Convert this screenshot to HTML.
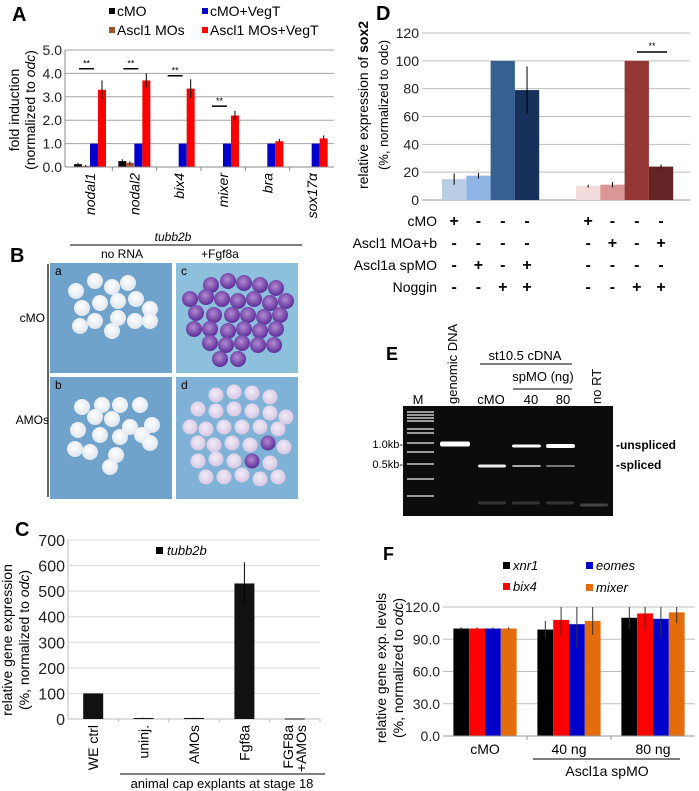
<!DOCTYPE html>
<html><head><meta charset="utf-8"><style>
html,body{margin:0;padding:0;background:#fff}
svg{display:block;font-family:"Liberation Sans",Arial,sans-serif}
</style></head><body>
<svg id="fig" width="699" height="791" viewBox="0 0 699 791" xmlns="http://www.w3.org/2000/svg">
<defs>
<radialGradient id="emb" cx="45%" cy="40%" r="60%"><stop offset="0" stop-color="#ffffff"/><stop offset="1" stop-color="#dfe6ee"/></radialGradient>
<radialGradient id="embp" cx="45%" cy="40%" r="60%"><stop offset="0" stop-color="#b48ad0"/><stop offset="1" stop-color="#5a2c9a"/></radialGradient>
<radialGradient id="embl" cx="45%" cy="40%" r="60%"><stop offset="0" stop-color="#f2ecf6"/><stop offset="1" stop-color="#d6c7e4"/></radialGradient>
</defs>
</svg>
<script>
// ---------- Panel A data ----------
const aCats=["nodal1","nodal2","bix4","mixer","bra","sox17α"];
const aCmo=[0.12,0.25,0.02,0.02,0.02,0.02];
const aCmoErr=[0.06,0.08,0,0,0,0];
const aAmo=[0.05,0.18,0.02,0.02,0.02,0.02];
const aAmoErr=[0.03,0.06,0,0,0,0];
const aCmoVegT=[1,1,1,1,1,1];
const aAmoVegT=[3.3,3.7,3.35,2.2,1.1,1.22];
const aAmoVegTErr=[0.4,0.3,0.4,0.2,0.1,0.13];
const aTicks=["0.0","1.0","2.0","3.0","4.0","5.0"];
const aSig=[4.2,4.2,3.9,2.6,null,null];
// ---------- Panel C data ----------
const cCats=[["WE ctrl"],["uninj."],["AMOs"],["Fgf8a"],["FGF8a","+AMOs"]];
const cVals=[100,4,4,530,2];
const cErr=[0,1,1,83,0];
const cTicks=["0","100","200","300","400","500","600","700"];
// ---------- Panel D data ----------
const dVals1=[15,17.5,100,79];
const dErr1=[4,2,0,17];
const dVals2=[10,11,100,24];
const dErr2=[1,2,0,1.5];
const dTicks=["0","20","40","60","80","100","120"];
const dRows=["cMO","Ascl1 MOa+b","Ascl1a spMO","Noggin"];
const dSigns1=[["+","-","-","-"],["-","-","-","-"],["-","+","-","+"],["-","-","+","+"]];
const dSigns2=[["+","-","-","-"],["-","+","-","+"],["-","-","-","-"],["-","-","+","+"]];
// ---------- Panel F data ----------
const fGroups=["cMO","40 ng","80 ng"];
const fSeriesNames=["xnr1","bix4","eomes","mixer"];
const fXnr1=[100,99,110];
const fBix4=[100,108,114];
const fEomes=[100,104,109];
const fMixer=[100,107,115];
const fXnr1Err=[1,8,10];
const fBix4Err=[1,15,15];
const fEomesErr=[1,22,17];
const fMixerErr=[1,13,10];
const fTicks=["0.0","30.0","60.0","90.0","120.0"];

const svg=document.getElementById('fig');
const NS="http://www.w3.org/2000/svg";
function mk(tag,attrs,parent){const e=document.createElementNS(NS,tag);for(const k in attrs)e.setAttribute(k,attrs[k]);(parent||svg).appendChild(e);return e;}
function txt(s,attrs,parent){const e=mk('text',attrs,parent);e.textContent=s;return e;}
let el;

// ================= PANEL A =================
(function(){
const x0=65,x1=334,yB=167,yT=50,ymax=5;
const cx0=68,cw=(x1-cx0)/aCats.length;
const y=v=>yB-(v/ymax)*(yB-yT);
el=txt("A",{x:12,y:21,"font-size":20,"font-weight":"bold"});

for(let i=0;i<aTicks.length;i++){
  const v=parseFloat(aTicks[i]);
  el=mk('line',{x1:x0,x2:x1,y1:y(v),y2:y(v),stroke:"#a6a6a6","stroke-width":1});
  
  el=txt(aTicks[i],{x:x0-3,y:y(v)+5,"font-size":14,"text-anchor":"end",fill:"#222"});
  
}
el=mk('line',{x1:x0,x2:x0,y1:yT,y2:yB,stroke:"#888"});

const series=[[aCmo,aCmoErr,"#000",6],[aAmo,aAmoErr,"#a0522d",13.5],[aCmoVegT,null,"#0000cc",22],[aAmoVegT,aAmoVegTErr,"#ff0000",30]];
for(let i=0;i<aCats.length;i++){
  const cx=cx0+cw*i;
  series.forEach((s,j)=>{
    const v=s[0][i];
    el=mk('rect',{x:cx+s[3],y:y(v),width:8,height:yB-y(v),fill:s[2]});
    
    if(s[1]&&s[1][i]>0){
      el=mk('line',{x1:cx+s[3]+4,x2:cx+s[3]+4,y1:y(v+s[1][i]),y2:y(Math.max(0,v-s[1][i])),stroke:"#000","stroke-width":1});
      
    }
  });
  if(i>0){el=mk('line',{x1:cx,x2:cx,y1:yB,y2:yB+4,stroke:"#888"});
  }
  if(aSig[i]!==null){
    el=mk('line',{x1:cx+11,x2:cx+26,y1:y(aSig[i]),y2:y(aSig[i]),stroke:"#000","stroke-width":1.5});
    
    el=txt("**",{x:cx+18.5,y:y(aSig[i])-2,"font-size":9,"text-anchor":"middle"});
    
  }
  el=txt(aCats[i],{x:0,y:0,"font-size":14,"font-style":"italic","text-anchor":"end",transform:`translate(${cx+cw/2+5},${yB+6}) rotate(-90)`});
  
}
el=mk('line',{x1:x0,x2:x1,y1:yB,y2:yB,stroke:"#888"});

el=txt("fold induction",{x:0,y:0,"font-size":14,"text-anchor":"middle",transform:`translate(19,110) rotate(-90)`});

el=mk('text',{x:0,y:0,"font-size":14,"text-anchor":"middle",transform:`translate(35,110) rotate(-90)`});
el.innerHTML='(normalized to <tspan font-style="italic">odc</tspan>)';

const leg=[["cMO","#000",109,16],["Ascl1 MOs","#a0522d",109,35],["cMO+VegT","#0000cc",202,16],["Ascl1 MOs+VegT","#ff0000",202,35]];
leg.forEach(l=>{
  el=mk('rect',{x:l[2],y:l[3]-8,width:6,height:6,fill:l[1]});
  
  el=txt(l[0],{x:l[2]+8,y:l[3],"font-size":14});
  
});
})();

// ================= PANEL B =================
(function(){
el=txt("B",{x:10,y:262,"font-size":20,"font-weight":"bold"});

el=txt("tubb2b",{x:173,y:241,"font-size":12,"font-style":"italic","text-anchor":"middle"});

el=mk('line',{x1:70,x2:302,y1:245,y2:245,stroke:"#000"});

el=txt("no RNA",{x:122,y:258,"font-size":12,"text-anchor":"middle"});

el=txt("+Fgf8a",{x:220,y:258,"font-size":12,"text-anchor":"middle"});

el=txt("cMO",{x:45,y:322,"font-size":12,"text-anchor":"end"});

el=txt("AMOs",{x:49,y:424,"font-size":12,"text-anchor":"end"});

el=mk('line',{x1:48,x2:48,y1:264,y2:497,stroke:"#000","stroke-width":1.2});

const panels=[["a",50,263,"#6fa3cc"],["c",176,263,"#8cc0dc"],["b",50,377,"#6fa3cc"],["d",176,377,"#7fb2d6"]];
const ptsA=[[26,28],[45,18],[62,24],[78,20],[32,45],[50,40],[68,38],[86,36],[100,46],[45,58],[68,55],[85,58],[30,63],[62,68],[100,58]];
const ptsB=[[32,30],[52,28],[70,28],[90,28],[45,40],[62,42],[28,53],[80,50],[102,48],[50,58],[70,60],[92,58],[100,66],[40,75],[66,78],[25,72],[60,90]];
const ptsC=[[35,22],[52,18],[68,20],[84,22],[100,25],[14,36],[30,34],[46,36],[62,38],[78,36],[94,40],[110,38],[20,50],[38,52],[56,52],[72,52],[88,54],[104,52],[18,66],[34,66],[52,68],[68,66],[84,68],[100,66],[34,80],[50,82],[66,80],[82,82],[98,82],[44,96],[62,96]];
const ptsD=[[40,18],[58,15],[76,16],[94,20],[22,32],[40,34],[58,32],[76,34],[94,36],[110,40],[14,50],[30,52],[48,50],[66,50],[84,50],[102,52],[22,66],[38,68],[56,66],[74,68],[92,66],[108,70],[22,84],[40,82],[58,84],[76,84],[94,86],[30,100],[48,100],[66,98],[84,102],[102,100]];
panels.forEach((p,k)=>{
  el=mk('rect',{x:p[1],y:p[2],width:122,height:p[0]==="a"||p[0]==="c"?110:122,fill:p[3]});
  
  const pts=[ptsA,ptsC,ptsB,ptsD][k];
  pts.forEach((q,m)=>{
    let f="url(#emb)",r=8;
    if(p[0]==="c"){f="url(#embp)";r=8;}
    if(p[0]==="d"){f=(m===20||m===25)?"url(#embp)":"url(#embl)";r=7.5;}
    el=mk('circle',{cx:p[1]+q[0],cy:p[2]+q[1],r:r,fill:f});
    
  });
  el=txt(p[0],{x:p[1]+5,y:p[2]+12,"font-size":12});
  
});
})();

// ================= PANEL C =================
(function(){
const x0=68,x1=320,yB=719,yT=540,ymax=700;
const cw=(x1-x0)/cCats.length;
const y=v=>yB-(v/ymax)*(yB-yT);
el=txt("C",{x:15,y:536,"font-size":20,"font-weight":"bold"});

cTicks.forEach(t=>{const v=+t;
  el=mk('line',{x1:x0,x2:x1,y1:y(v),y2:y(v),stroke:"#d9d9d9"});
  
  el=txt(t,{x:x0-3,y:y(v)+6,"font-size":16,"text-anchor":"end",fill:"#222"});
  
});
el=mk('line',{x1:x0,x2:x0,y1:yT,y2:yB,stroke:"#bbb"});

el=mk('line',{x1:x0,x2:x1,y1:yB,y2:yB,stroke:"#bbb"});

cCats.forEach((c,i)=>{
  const cx=x0+cw*(i+0.5);
  el=mk('rect',{x:cx-10,y:y(cVals[i]),width:20,height:Math.max(1,yB-y(cVals[i])),fill:"#111"});
  
  if(cErr[i]>0){el=mk('line',{x1:cx,x2:cx,y1:y(cVals[i]+cErr[i]),y2:y(cVals[i]-cErr[i]),stroke:"#000"});
  }
  el=mk('line',{x1:x0+cw*(i+1),x2:x0+cw*(i+1),y1:yB,y2:yB+3,stroke:"#bbb"});
  
  c.forEach((s,j)=>{
    const off=c.length===1?5:-2+j*13;
    el=txt(s,{x:0,y:0,"font-size":14,"text-anchor":"end",transform:`translate(${cx+off},${yB+6}) rotate(-90)`});
    
  });
});
el=mk('line',{x1:120,x2:325,y1:774,y2:774,stroke:"#000"});

el=txt("animal cap explants at stage 18",{x:222,y:788,"font-size":13,"text-anchor":"middle"});

el=mk('rect',{x:156,y:547,width:7,height:7,fill:"#000"});

el=txt("tubb2b",{x:167,y:555,"font-size":13,"font-style":"italic"});

el=txt("relative gene expression",{x:0,y:0,"font-size":14,"text-anchor":"middle",transform:`translate(12,640) rotate(-90)`});

el=mk('text',{x:0,y:0,"font-size":14,"text-anchor":"middle",transform:`translate(29,640) rotate(-90)`});
el.innerHTML='(%, normalized to <tspan font-style="italic">odc</tspan>)';

})();

// ================= PANEL D =================
(function(){
const x0=422,x1=690,yB=200,yT=33,ymax=120;
const y=v=>yB-(v/ymax)*(yB-yT);
el=txt("D",{x:376,y:20,"font-size":20,"font-weight":"bold"});

dTicks.forEach(t=>{const v=+t;
  el=mk('line',{x1:x0,x2:x1,y1:y(v),y2:y(v),stroke:"#bfbfbf"});
  
  el=txt(t,{x:x0-3,y:y(v)+5,"font-size":14,"text-anchor":"end",fill:"#222"});
  
});
el=mk('line',{x1:x0,x2:x1,y1:yB,y2:yB,stroke:"#999"});

const c1=["#b9cde5","#8db4e2","#376092","#17315a"],c2=["#f2dcdb","#d99694","#953735","#632523"];
const groups=[[dVals1,dErr1,c1,442,dSigns1],[dVals2,dErr2,c2,576,dSigns2]];
const bw=24.3;
groups.forEach((g,gi)=>{
  g[0].forEach((v,i)=>{
    const bx=g[3]+bw*i;
    el=mk('rect',{x:bx,y:y(v),width:bw,height:yB-y(v),fill:g[2][i]});
    
    if(g[1][i]>0){el=mk('line',{x1:bx+bw/2,x2:bx+bw/2,y1:y(v+g[1][i]),y2:y(v-g[1][i]),stroke:"#000"});
    }
  });
  g[4].forEach((row,r)=>row.forEach((s,i)=>{
    el=txt(s,{x:g[3]+bw*i+bw/2,y:226+r*22,"font-size":16,"font-weight":"bold","text-anchor":"middle"});
    
  }));
});
el=mk('line',{x1:637,x2:667,y1:52,y2:52,stroke:"#000","stroke-width":1.5});

el=txt("**",{x:652,y:49,"font-size":9,"text-anchor":"middle"});

dRows.forEach((r,i)=>{
  el=txt(r,{x:437,y:226+i*22,"font-size":14,"text-anchor":"end"});
  
});
el=mk('text',{x:0,y:0,"font-size":14,"text-anchor":"middle",transform:`translate(368,105) rotate(-90)`});
el.innerHTML='relative expression of <tspan font-weight="bold">sox2</tspan>';

el=txt("(%, normalized to odc)",{x:0,y:0,"font-size":13,"text-anchor":"middle",transform:`translate(388,105) rotate(-90)`});

})();

// ================= PANEL E (gel) =================
(function(){
el=txt("E",{x:386,y:360,"font-size":18,"font-weight":"bold"});

el=mk('rect',{x:403,y:406,width:210,height:110,fill:"#0c0c0c"});

[412,415,418,421,429,433,443,452,464,479,496].forEach(yy=>{
  el=mk('rect',{x:407,y:yy-1,width:27,height:2,fill:"#9a9a9a"});
  
});
const bands=[[440,444,30,"#fff",5],[478,466,28,"#eee",3],[512,446,29,"#fff",3],[512,466,29,"#aaa",2],[546,446,29,"#fff",4],[546,466,29,"#777",2],[580,505,28,"#444",3],[512,503,28,"#333",3],[546,503,28,"#333",3],[478,503,28,"#333",3]];
bands.forEach(b=>{
  el=mk('rect',{x:b[0],y:b[1]-b[4]/2,width:b[2],height:b[4],rx:2,fill:b[3]});
  
});
const lab=[["M",418,404],["cMO",491,404],["40",531,404],["80",563,404]];
lab.forEach(l=>{el=txt(l[0],{x:l[1],y:l[2],"font-size":13,"text-anchor":"middle"});
  });
el=txt("genomic DNA",{x:0,y:0,"font-size":13,transform:`translate(457,404) rotate(-90)`});

el=txt("no RT",{x:0,y:0,"font-size":13,transform:`translate(601,404) rotate(-90)`});

el=txt("st10.5 cDNA",{x:525,y:360,"font-size":13,"text-anchor":"middle"});

el=mk('line',{x1:480,x2:572,y1:364,y2:364,stroke:"#000"});

el=txt("spMO (ng)",{x:543,y:381,"font-size":13,"text-anchor":"middle"});

el=mk('line',{x1:513,x2:572,y1:389,y2:389,stroke:"#000"});

el=txt("1.0kb-",{x:403,y:448,"font-size":11,"text-anchor":"end"});

el=txt("0.5kb-",{x:403,y:468,"font-size":11,"text-anchor":"end"});

el=txt("-unspliced",{x:616,y:449,"font-size":12,"font-weight":"bold"});

el=txt("-spliced",{x:616,y:469,"font-size":12,"font-weight":"bold"});

})();

// ================= PANEL F =================
(function(){
const x0=443,x1=695,yB=736,yT=607,ymax=120;
const y=v=>yB-(Math.min(v,ymax)/ymax)*(yB-yT);
const gw=(x1-x0)/fGroups.length,bw=15.8;
el=txt("F",{x:383,y:560,"font-size":18,"font-weight":"bold"});

fTicks.forEach(t=>{const v=+t;
  el=mk('line',{x1:x0,x2:x1,y1:y(v),y2:y(v),stroke:"#bfbfbf"});
  
  el=txt(t,{x:x0-3,y:y(v)+5,"font-size":14,"text-anchor":"end",fill:"#222"});
  
});
const series=[[fXnr1,fXnr1Err,"#000"],[fBix4,fBix4Err,"#ff0000"],[fEomes,fEomesErr,"#0000cc"],[fMixer,fMixerErr,"#e46c0a"]];
fGroups.forEach((g,i)=>{
  const gx=x0+gw*i+(gw-4*bw)/2;
  series.forEach((s,j)=>{
    const v=s[0][i],bx=gx+bw*j;
    el=mk('rect',{x:bx,y:y(v),width:bw,height:yB-y(v),fill:s[2]});
    
    el=mk('line',{x1:bx+bw/2,x2:bx+bw/2,y1:y(v+s[1][i]),y2:y(v-s[1][i]),stroke:"#333"});
    
  });
  el=txt(g,{x:x0+gw*(i+0.5),y:754,"font-size":14,"text-anchor":"middle"});
  
  if(i>0){el=mk('line',{x1:x0+gw*i,x2:x0+gw*i,y1:yB,y2:yB+4,stroke:"#999"});
  }
});
el=mk('line',{x1:x0,x2:x1,y1:yB,y2:yB,stroke:"#999"});

el=mk('line',{x1:533,x2:680,y1:759,y2:759,stroke:"#000"});

el=txt("Ascl1a spMO",{x:607,y:776,"font-size":14,"text-anchor":"middle"});

const leg=[[0,503,569],[1,503,590],[2,586,569],[3,586,591]];
leg.forEach(l=>{
  el=mk('rect',{x:l[1],y:l[2]-7,width:7,height:7,fill:series[l[0]][2]});
  
  el=txt(fSeriesNames[l[0]],{x:l[1]+10,y:l[2]+1,"font-size":13,"font-style":"italic"});
  
});
el=txt("relative gene exp. levels",{x:0,y:0,"font-size":14,"text-anchor":"middle",transform:`translate(386,668) rotate(-90)`});

el=mk('text',{x:0,y:0,"font-size":14,"text-anchor":"middle",transform:`translate(403,668) rotate(-90)`});
el.innerHTML='(%, normalized to <tspan font-style="italic">odc</tspan>)';

})();
</script>
</body></html>
